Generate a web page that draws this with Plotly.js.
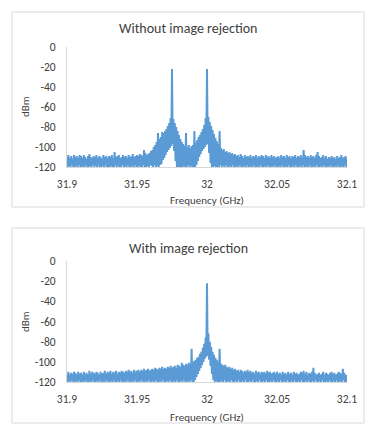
<!DOCTYPE html>
<html>
<head>
<meta charset="utf-8">
<script src="https://cdn.plot.ly/plotly-3.0.1.min.js"></script>
<style>html,body{margin:0;padding:0;background:#fff;}#chart{width:379px;height:436px;}</style>
</head>
<body>
<div id="chart"></div>
<script>
// Frequency grid: 31.9 to 32.1 GHz, 0.0005 GHz step (401 points)
const freqStart = 31.9;
const freqStep = 0.0005;

const titleTop = "Without image rejection";
const titleBottom = "With image rejection";
const xTitle = "Frequency (GHz)";
const yTitle = "dBm";
const xTickVals = [31.9, 31.95, 32, 32.05, 32.1];
const xTickText = ["31.9", "31.95", "32", "32.05", "32.1"];
const yTickVals = [0, -20, -40, -60, -80, -100, -120];
const yTickText = ["0", "-20", "-40", "-60", "-80", "-100", "-120"];

// Spectrum without image rejection (dBm)
const dbmNoIR = [
-110,-121,-108,-119,-111,-122,-109,-118,-112,-120,-108,-121,-110,-119,-109,-122,-111,-118,-108,-120,
-109,-121,-111,-119,-108,-122,-110,-118,-112,-120,-109,-121,-107,-119,-110,-122,-111,-118,-109,-120,
-110,-119,-108,-121,-111,-118,-109,-122,-110,-120,-112,-119,-108,-121,-110,-118,-109,-122,-111,-120,
-109,-121,-110,-119,-108,-120,-111,-122,-105,-118,-110,-121,-109,-119,-108,-122,-111,-120,-110,-118,
-108,-121,-110,-119,-109,-122,-111,-118,-108,-120,-110,-121,-109,-119,-107,-122,-110,-118,-109,-120,
-108,-121,-109,-119,-107,-120,-108,-122,-109,-118,-103,-120,-106,-121,-108,-119,-107,-122,-106,-118,
-104,-119,-103,-121,-100,-118,-98,-120,-95,-119,-86,-121,-92,-118,-90,-117,-85,-113,-86,-111,
-84,-108,-82,-105,-79,-103,-76,-101,-71,-99,-22,-97,-72,-104,-76,-114,-80,-120,-84,-121,
-88,-122,-92,-120,-95,-122,-97,-119,-99,-121,-86,-122,-100,-118,-98,-122,-101,-119,-99,-121,
-98,-121,-84,-120,-96,-118,-93,-114,-90,-110,-88,-107,-85,-104,-82,-102,-78,-100,-71,-98,
-22,-97,-70,-106,-75,-116,-79,-120,-83,-121,-87,-119,-91,-122,-94,-120,-97,-121,-84,-118,
-101,-121,-103,-119,-102,-122,-105,-118,-104,-120,-106,-121,-105,-119,-107,-122,-106,-118,-108,-120,
-107,-121,-109,-119,-108,-122,-110,-118,-107,-120,-109,-121,-111,-119,-108,-122,-110,-118,-109,-120,
-110,-121,-108,-119,-111,-122,-109,-118,-110,-120,-108,-121,-111,-119,-109,-122,-110,-118,-108,-120,
-109,-121,-111,-119,-108,-122,-110,-118,-109,-120,-111,-121,-108,-119,-110,-122,-109,-118,-111,-120,
-110,-121,-109,-119,-111,-122,-108,-118,-110,-120,-109,-121,-111,-119,-108,-122,-110,-118,-109,-120,
-111,-121,-109,-119,-110,-122,-108,-118,-111,-120,-109,-121,-110,-119,-108,-122,-111,-118,-103,-120,
-108,-121,-110,-119,-109,-122,-111,-118,-108,-120,-110,-121,-109,-119,-111,-122,-108,-118,-105,-120,
-109,-121,-111,-119,-110,-122,-108,-118,-111,-120,-109,-121,-112,-119,-110,-122,-111,-118,-109,-120,
-111,-121,-110,-119,-112,-122,-109,-118,-111,-120,-110,-121,-108,-119,-111,-122,-110,-118,-109,-120,
-112
];

// Spectrum with image rejection (dBm)
const dbmIR = [
-112,-121,-110,-119,-113,-122,-111,-118,-112,-120,-110,-121,-111,-119,-113,-122,-110,-118,-112,-120,
-111,-121,-113,-119,-110,-122,-112,-118,-111,-120,-113,-121,-109,-119,-112,-122,-110,-118,-111,-120,
-112,-121,-110,-119,-111,-122,-113,-118,-110,-120,-112,-121,-111,-119,-109,-122,-112,-118,-110,-120,
-111,-121,-109,-119,-112,-122,-110,-118,-111,-120,-109,-121,-112,-119,-110,-122,-111,-118,-109,-120,
-110,-121,-111,-119,-109,-122,-110,-118,-108,-120,-110,-121,-109,-119,-111,-122,-108,-118,-110,-120,
-109,-121,-108,-119,-110,-122,-108,-118,-109,-120,-107,-121,-109,-119,-108,-122,-107,-118,-109,-120,
-108,-121,-107,-119,-108,-122,-106,-118,-107,-120,-108,-121,-106,-119,-107,-122,-105,-118,-107,-120,
-106,-121,-107,-119,-105,-122,-106,-118,-104,-120,-106,-121,-105,-119,-104,-122,-106,-118,-103,-120,
-104,-121,-105,-119,-101,-122,-103,-118,-104,-120,-102,-121,-103,-119,-101,-122,-102,-118,-87,-120,
-100,-121,-99,-118,-98,-115,-96,-112,-95,-109,-92,-106,-90,-103,-86,-100,-82,-97,-76,-95,
-22,-94,-72,-98,-80,-104,-85,-112,-90,-118,-93,-121,-96,-119,-98,-122,-100,-120,-87,-121,
-102,-119,-103,-122,-104,-118,-103,-120,-105,-121,-106,-119,-105,-122,-107,-118,-106,-120,-108,-121,
-107,-119,-109,-122,-108,-118,-110,-120,-108,-121,-109,-119,-111,-122,-109,-118,-110,-120,-108,-121,
-110,-119,-109,-122,-111,-118,-110,-120,-112,-121,-109,-119,-111,-122,-110,-118,-112,-120,-110,-121,
-111,-119,-110,-122,-112,-118,-109,-120,-111,-121,-110,-119,-112,-122,-111,-118,-110,-120,-112,-121,
-110,-119,-112,-122,-111,-118,-113,-120,-110,-121,-112,-119,-111,-122,-113,-118,-110,-120,-112,-121,
-111,-119,-113,-122,-110,-118,-112,-120,-111,-121,-113,-119,-112,-122,-110,-118,-111,-120,-109,-121,
-112,-119,-110,-122,-113,-118,-111,-120,-112,-121,-110,-119,-106,-122,-111,-118,-113,-120,-112,-121,
-111,-119,-113,-122,-112,-118,-110,-120,-113,-121,-111,-119,-112,-122,-113,-118,-111,-120,-110,-121,
-112,-119,-111,-122,-113,-118,-112,-120,-110,-121,-111,-119,-112,-122,-107,-118,-111,-120,-113,-121,
-113
];

const freqNoIR = dbmNoIR.map((_, i) => freqStart + i * freqStep);
const freqIR = dbmIR.map((_, i) => freqStart + i * freqStep);

const W = 379, H = 436;
const px = v => v / W;
const py = v => 1 - v / H;
const FONT = "Carlito, Lato, 'Liberation Sans', sans-serif";
const lineColor = "#5B9BD5";

const traces = [
  { x: freqNoIR, y: dbmNoIR, type: "scatter", mode: "lines", xaxis: "x", yaxis: "y",
    line: { color: lineColor, width: 2 }, hoverinfo: "skip", showlegend: false },
  { x: freqIR, y: dbmIR, type: "scatter", mode: "lines", xaxis: "x2", yaxis: "y2",
    line: { color: lineColor, width: 2 }, hoverinfo: "skip", showlegend: false }
];

function xAxis(anchor) {
  return {
    domain: [px(67), px(347)], range: [31.9, 32.1], anchor: anchor,
    tickmode: "array", tickvals: xTickVals, ticktext: xTickText,
    showgrid: false, zeroline: false, showline: true, linecolor: "#D9D9D9", linewidth: 1,
    ticks: "", ticklabelstandoff: 6, layer: "below traces",
    tickfont: { family: FONT, size: 11.5, color: "#404040" }, fixedrange: true
  };
}
function yAxis(anchor, top, bottom) {
  return {
    domain: [py(bottom), py(top)], range: [-120, 0], anchor: anchor,
    tickmode: "array", tickvals: yTickVals, ticktext: yTickText,
    showgrid: false, zeroline: false, showline: true, linecolor: "#D9D9D9", linewidth: 1,
    ticks: "", ticklabelstandoff: 8, layer: "below traces",
    tickfont: { family: FONT, size: 11.5, color: "#404040" }, fixedrange: true
  };
}

const ann = (text, x, y, size, extra) => Object.assign({
  text: text, xref: "paper", yref: "paper", x: px(x), y: py(y),
  xanchor: "center", yanchor: "middle", showarrow: false,
  font: { family: FONT, size: size, color: "#404040" }
}, extra || {});

const layout = {
  width: W, height: H,
  margin: { l: 0, r: 0, t: 0, b: 0 },
  paper_bgcolor: "#ffffff", plot_bgcolor: "#ffffff",
  showlegend: false,
  xaxis: xAxis("y"),
  yaxis: yAxis("x", 47, 167),
  xaxis2: xAxis("y2"),
  yaxis2: yAxis("x2", 261, 382),
  shapes: [
    { type: "rect", xref: "paper", yref: "paper", x0: px(12), x1: px(364), y0: py(207), y1: py(12),
      line: { color: "#D9D9D9", width: 1 }, fillcolor: "rgba(0,0,0,0)", layer: "below" },
    { type: "rect", xref: "paper", yref: "paper", x0: px(12), x1: px(364), y0: py(423), y1: py(228),
      line: { color: "#D9D9D9", width: 1 }, fillcolor: "rgba(0,0,0,0)", layer: "below" }
  ],
  annotations: [
    ann(titleTop, 188, 28, 14),
    ann(titleBottom, 188, 248, 14),
    ann(xTitle, 207, 200, 11),
    ann(xTitle, 207, 417, 11),
    ann(yTitle, 25, 107, 11, { textangle: -90 }),
    ann(yTitle, 25, 322, 11, { textangle: -90 })
  ]
};

Plotly.newPlot("chart", traces, layout, { staticPlot: true, displayModeBar: false });
</script>
</body>
</html>
